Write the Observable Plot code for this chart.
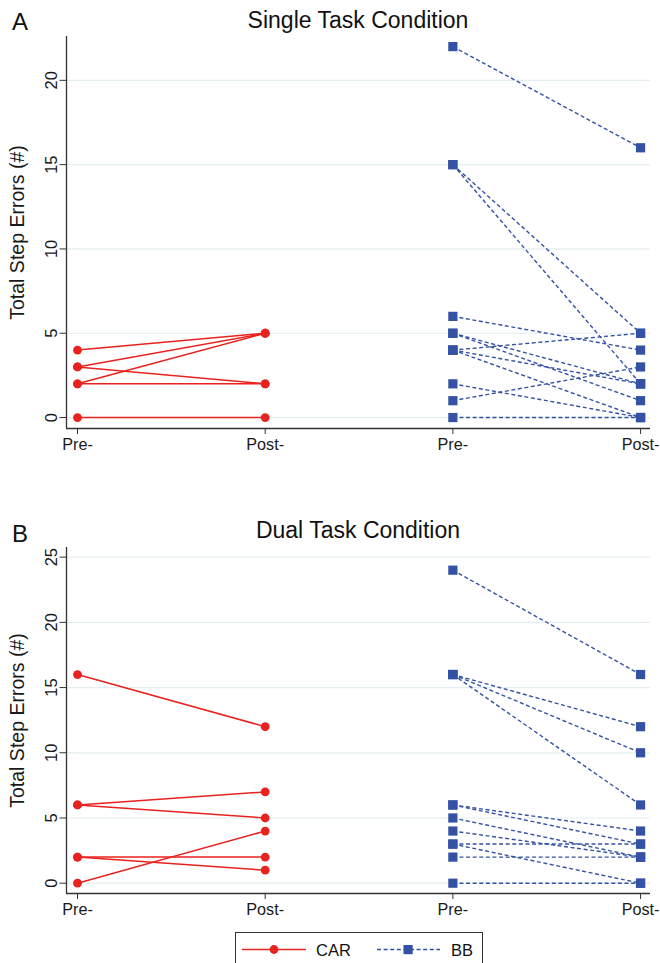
<!DOCTYPE html>
<html>
<head>
<meta charset="utf-8">
<script src="https://cdn.jsdelivr.net/npm/d3@7"></script>
<script src="https://cdn.jsdelivr.net/npm/@observablehq/plot@0.6"></script>
<style>
  body { margin: 0; background: #fff; }
  #fig { position: relative; width: 660px; height: 963px; overflow: hidden; background: #fff; font-family: "Liberation Sans", Arial, sans-serif; }
  #fig > * { position: absolute; left: 0; }
  #fig g[aria-label="y-axis label"] text { font-size: 19.5px; }
</style>
</head>
<body>
<div id="fig"></div>
<script>
// ---- data ----
const groups = ["CAR", "BB"];
const tickLabels = ["Pre-", "Post-", "Pre-", "Post-"];
const panelLetters = ["A", "B"];
const panelTitles = ["Single Task Condition", "Dual Task Condition"];
const yLabel = "Total Step Errors (#)";

const singleCarPre  = [4, 3, 3, 2, 2, 0];
const singleCarPost = [5, 5, 2, 5, 2, 0];
const singleBbPre   = [22, 15, 15, 6, 5, 5, 4, 4, 4, 2, 1, 0];
const singleBbPost  = [16, 5, 2, 4, 2, 1, 5, 2, 0, 0, 3, 0];

const dualCarPre  = [16, 6, 6, 2, 2, 0];
const dualCarPost = [12, 7, 5, 2, 1, 4];
const dualBbPre   = [24, 16, 16, 16, 6, 6, 5, 4, 3, 3, 2, 0];
const dualBbPost  = [16, 12, 10, 6, 4, 3, 2, 2, 3, 0, 2, 0];

const singleYTicks = [0, 5, 10, 15, 20];
const dualYTicks = [0, 5, 10, 15, 20, 25];

// ---- styles ----
const RED = "#e8221f";
const BLUE = "#3451a4";
const GRID = "#e3eef1";
const AXIS = "#333";
const FONT = "Liberation Sans, Arial, sans-serif";

function pairs(pre, post, xPre) {
  return pre.map((v, i) => ({x1: xPre, y1: v, x2: xPre + 1, y2: post[i]}));
}

function panel(carPre, carPost, bbPre, bbPost, yTicks, yDomain, opts) {
  const car = pairs(carPre, carPost, 0);
  const bb = pairs(bbPre, bbPost, 2);
  const pts = (arr) => arr.flatMap(d => [{x: d.x1, y: d.y1}, {x: d.x2, y: d.y2}]);
  const xDomain = [-0.0586, 3.053];
  return Plot.plot({
    width: 660,
    height: opts.height,
    marginTop: opts.marginTop,
    marginBottom: opts.marginBottom,
    marginLeft: 66,
    marginRight: 10,
    style: {fontFamily: FONT, fontSize: "16px", color: "#1a1a1a", background: "transparent"},
    x: {domain: xDomain},
    y: {domain: yDomain},
    marks: [
      Plot.gridY(yTicks, {stroke: GRID, strokeOpacity: 1, strokeWidth: 1.2}),
      Plot.link(car, {x1: "x1", y1: "y1", x2: "x2", y2: "y2", stroke: RED, strokeWidth: 1.5}),
      Plot.link(bb, {x1: "x1", y1: "y1", x2: "x2", y2: "y2", stroke: BLUE, strokeWidth: 1.4, strokeDasharray: "4,2.6"}),
      Plot.dot(pts(car), {x: "x", y: "y", r: 4.4, fill: RED, stroke: "none"}),
      Plot.dot(pts(bb), {x: "x", y: "y", r: 5.2, symbol: "square", fill: BLUE, stroke: "none"}),
      Plot.axisX([0, 1, 2, 3], {tickSize: 6, tickPadding: 4, tickFormat: i => tickLabels[i], label: null, stroke: AXIS, fontSize: 16.2}),
      Plot.axisY(yTicks, {tickSize: 6.5, tickRotate: -90, tickPadding: 3, label: yLabel, labelAnchor: "center", labelArrow: "none", labelOffset: 56, stroke: AXIS, fontSize: 16.5}),
      Plot.ruleX([xDomain[0]], {stroke: AXIS, strokeWidth: 1.3}),
      Plot.ruleY([yDomain[0]], {stroke: AXIS, strokeWidth: 1.3})
    ]
  });
}

const fig = document.getElementById("fig");

const a = panel(singleCarPre, singleCarPost, singleBbPre, singleBbPost, singleYTicks, [-0.65, 22.6],
  {height: 460, marginTop: 36, marginBottom: 32});
a.style.top = "0px";
fig.appendChild(a);

const b = panel(dualCarPre, dualCarPost, dualBbPre, dualBbPost, dualYTicks, [-0.79, 25.74],
  {height: 430, marginTop: 47, marginBottom: 37});
b.style.top = "500px";
fig.appendChild(b);

// ---- overlay: panel letters, titles, legend ----
const ov = d3.create("svg").attr("width", 660).attr("height", 963)
  .style("top", "0px").style("pointer-events", "none")
  .style("font-family", FONT).attr("fill", "#111");

const titleY = [27.5, 537.5];
const letterY = [30, 541.5];
panelLetters.forEach((L, i) => {
  ov.append("text").attr("x", 12).attr("y", letterY[i]).attr("font-size", 24).text(L);
  ov.append("text").attr("x", 358).attr("y", titleY[i]).attr("font-size", 23)
    .attr("text-anchor", "middle").text(panelTitles[i]);
});

// legend
const lg = ov.append("g");
lg.append("rect").attr("x", 235.5).attr("y", 932.5).attr("width", 247).attr("height", 50)
  .attr("fill", "none").attr("stroke", "#333").attr("stroke-width", 1);
lg.append("line").attr("x1", 242).attr("x2", 306).attr("y1", 949.5).attr("y2", 949.5)
  .attr("stroke", RED).attr("stroke-width", 1.5);
lg.append("circle").attr("cx", 274).attr("cy", 949.5).attr("r", 4.4).attr("fill", RED);
lg.append("text").attr("x", 316).attr("y", 955.5).attr("font-size", 16.5).text(groups[0]);
lg.append("line").attr("x1", 377).attr("x2", 440).attr("y1", 949.5).attr("y2", 949.5)
  .attr("stroke", BLUE).attr("stroke-width", 1.4).attr("stroke-dasharray", "4,2.6");
lg.append("rect").attr("x", 403.5).attr("y", 945).attr("width", 9.2).attr("height", 9.2).attr("fill", BLUE);
lg.append("text").attr("x", 451).attr("y", 955.5).attr("font-size", 16.5).text(groups[1]);

fig.appendChild(ov.node());
</script>
</body>
</html>
